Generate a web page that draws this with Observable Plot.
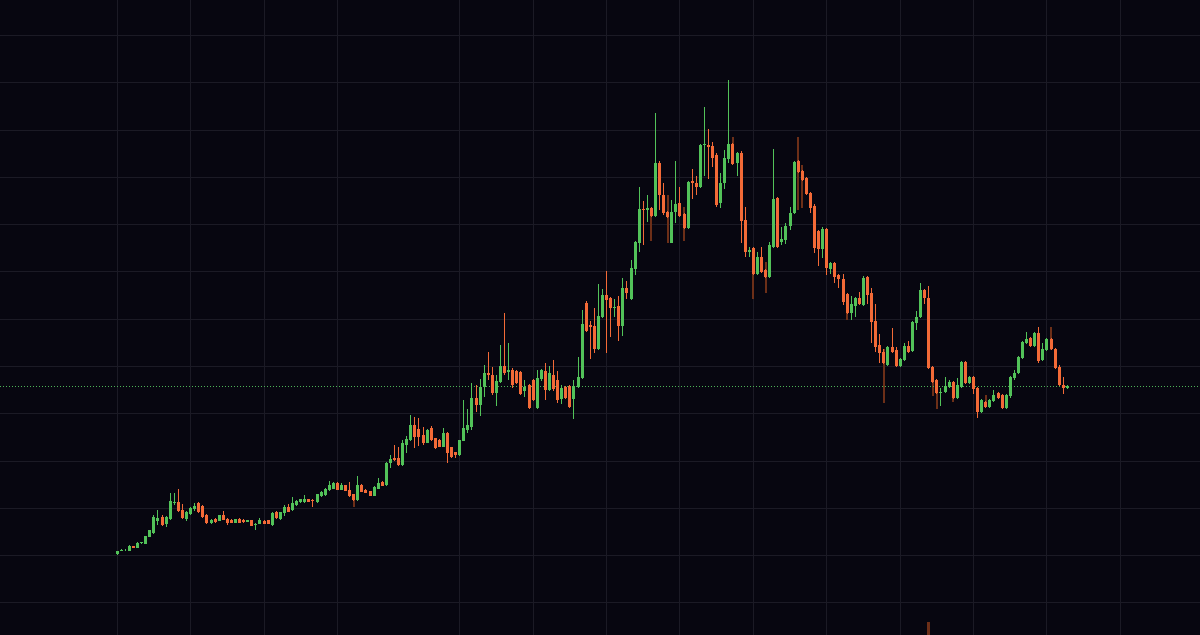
<!DOCTYPE html>
<html><head><meta charset="utf-8">
<script src="https://cdn.jsdelivr.net/npm/d3@7"></script>
<script src="https://cdn.jsdelivr.net/npm/@observablehq/plot@0.6"></script>
<style>html,body{margin:0;padding:0;background:#070610;overflow:hidden}#chart svg{display:block;shape-rendering:crispEdges}</style>
</head><body><div id="chart"></div>
<script>
const open = [
8.1, 8.45, 8.5, 8.4, 8.9, 8.75, 9.2, 9.15, 9.85, 10.2,
11.45, 11.8, 11.1, 11.6, 13.2, 13.3, 12.5, 11.6, 12.1, 12.6,
13.2, 12.9, 12.0, 11.25, 11.65, 11.45, 12.0, 11.65, 11.5, 11.25,
11.65, 11.5, 11.35, 11.5, 11.0, 11.15, 11.4, 11.5, 11.0, 12.3,
11.6, 12.25, 12.85, 12.5, 13.0, 13.3, 13.35, 13.6, 13.55, 13.3,
13.9, 14.0, 14.5, 14.65, 15.25, 14.55, 15.0, 14.55, 14.1, 13.5,
15.0, 14.55, 14.4, 13.95, 14.65, 15.35, 15.0, 17.2, 17.67, 17.7,
17.0, 19.0, 19.5, 21.0, 20.6, 20.0, 19.25, 20.75, 19.7, 19.5,
18.85, 20.25, 18.8, 18.3, 18.0, 19.45, 20.5, 20.85, 23.75, 23.0,
24.8, 26.2, 26.0, 24.2, 25.3, 26.9, 26.3, 26.5, 26.4, 26.3,
24.4, 25.0, 25.5, 22.7, 25.6, 26.4, 24.5, 26.0, 25.5, 23.6,
24.8, 24.9, 23.6, 24.8, 25.7, 33.2, 31.0, 30.9, 28.6, 31.8,
34.0, 33.7, 32.7, 32.9, 30.9, 34.7, 33.6, 36.6, 39.2, 42.6,
42.55, 42.7, 41.9, 47.2, 44.0, 42.3, 39.2, 42.3, 43.2, 42.1,
40.7, 45.4, 45.2, 44.8, 49.0, 49.05, 48.9, 48.0, 43.2, 45.2,
47.6, 49.1, 47.2, 48.2, 41.5, 38.3, 38.7, 36.1, 37.8, 36.5,
35.8, 38.8, 43.7, 39.35, 39.5, 40.9, 42.2, 47.4, 46.4, 45.7,
44.2, 42.9, 40.4, 38.6, 40.6, 36.6, 37.2, 36.0, 35.6, 34.1,
32.2, 32.9, 33.7, 33.0, 35.8, 34.2, 31.4, 29.0, 28.3, 27.0,
28.8, 28.5, 26.9, 27.5, 28.9, 28.4, 31.2, 31.8, 34.5, 33.7,
26.8, 25.5, 24.2, 24.3, 24.8, 25.35, 23.7, 24.8, 27.3, 25.2,
25.8, 24.7, 22.3, 23.3, 22.8, 23.4, 24.2, 24.0, 22.7, 23.9,
25.7, 26.2, 27.7, 29.2, 29.7, 28.9, 30.2, 27.5, 28.5, 29.6,
28.6, 26.8, 25.0, 24.7
];
const high = [
8.45, 8.6, 8.6, 9.0, 8.95, 9.3, 9.35, 9.95, 10.55, 12.0,
12.5, 12.0, 11.9, 14.2, 14.2, 14.6, 13.1, 12.4, 12.8, 13.2,
13.3, 13.0, 12.1, 11.6, 11.7, 12.05, 12.4, 11.7, 11.6, 11.65,
11.7, 11.65, 11.55, 11.55, 11.2, 11.7, 11.5, 11.55, 12.3, 12.4,
12.35, 13.0, 13.1, 13.8, 13.5, 13.65, 14.0, 13.65, 13.6, 14.15,
14.4, 14.7, 15.4, 15.3, 15.3, 15.25, 15.05, 15.3, 14.15, 15.95,
15.1, 14.6, 14.45, 14.9, 15.75, 15.4, 17.3, 18.0, 19.0, 18.8,
19.5, 19.9, 22.0, 21.8, 21.7, 20.8, 20.6, 20.9, 19.75, 19.6,
20.7, 20.3, 18.85, 18.35, 19.55, 23.5, 22.6, 25.2, 25.0, 25.6,
27.0, 28.3, 26.8, 26.0, 29.0, 32.2, 29.2, 26.7, 26.5, 26.4,
25.5, 25.1, 25.6, 26.5, 26.6, 27.2, 26.9, 27.5, 26.4, 25.0,
24.9, 25.0, 25.5, 27.8, 32.5, 33.4, 31.4, 32.7, 35.1, 34.6,
36.4, 33.8, 33.6, 33.9, 35.7, 35.4, 37.5, 39.4, 44.8, 43.4,
44.0, 42.8, 52.2, 47.4, 45.2, 42.4, 43.5, 47.4, 44.8, 42.2,
45.4, 46.6, 45.9, 49.1, 52.8, 50.6, 49.3, 48.2, 46.2, 48.5,
55.5, 49.2, 48.3, 48.4, 42.8, 38.8, 38.8, 38.3, 38.8, 36.6,
39.3, 48.6, 43.8, 40.8, 41.2, 42.8, 47.4, 47.5, 46.5, 45.8,
44.3, 43.1, 40.5, 40.8, 40.7, 37.3, 37.3, 36.1, 36.1, 34.2,
33.9, 33.8, 34.3, 35.9, 35.9, 34.7, 33.1, 30.1, 28.6, 28.9,
30.7, 28.8, 27.7, 29.2, 29.4, 31.4, 32.4, 35.2, 34.6, 34.9,
26.9, 25.6, 24.7, 25.8, 25.5, 25.4, 25.7, 27.4, 27.4, 25.9,
25.9, 24.8, 23.6, 23.4, 23.6, 24.5, 24.3, 24.1, 24.1, 25.9,
26.5, 27.9, 29.4, 30.3, 29.8, 30.3, 30.8, 29.2, 29.7, 29.7,
28.7, 27.0, 25.8, 25.0
];
const low = [
8.05, 8.4, 8.45, 8.4, 8.7, 8.7, 9.15, 9.1, 9.8, 10.1,
11.0, 10.9, 10.8, 11.5, 13.0, 12.3, 11.6, 11.45, 12.0, 12.4,
12.2, 11.7, 11.1, 11.1, 11.25, 11.4, 11.5, 11.0, 11.2, 11.2,
11.2, 11.25, 11.3, 10.9, 10.5, 11.1, 11.1, 11.1, 10.95, 11.6,
11.55, 11.9, 12.3, 12.45, 12.95, 13.25, 13.2, 13.3, 12.85, 13.25,
13.85, 13.95, 14.45, 14.6, 14.5, 14.5, 14.4, 13.85, 13.45, 13.45,
14.3, 14.2, 13.9, 13.9, 14.6, 14.9, 14.95, 16.7, 17.4, 16.9,
16.9, 18.2, 19.4, 18.7, 18.9, 19.0, 19.2, 19.4, 18.6, 18.8,
18.8, 17.2, 17.7, 17.7, 17.95, 19.4, 20.2, 20.5, 22.3, 21.9,
23.8, 25.5, 24.0, 22.9, 25.2, 26.0, 25.5, 24.7, 25.1, 24.0,
23.8, 22.6, 23.4, 22.6, 25.4, 23.5, 24.4, 24.4, 23.2, 23.1,
23.6, 22.7, 21.6, 24.7, 25.6, 30.3, 27.6, 28.2, 28.55, 31.7,
28.2, 29.8, 31.8, 29.4, 29.9, 33.6, 33.5, 36.0, 38.3, 39.0,
41.3, 41.8, 41.8, 42.5, 42.0, 41.7, 39.2, 41.2, 41.8, 40.6,
40.6, 43.6, 44.0, 44.7, 45.9, 45.6, 46.8, 42.8, 42.7, 44.6,
47.2, 47.0, 45.9, 39.2, 37.8, 37.8, 36.0, 36.0, 36.2, 35.7,
35.7, 38.7, 38.7, 39.0, 39.1, 40.5, 42.1, 46.2, 45.4, 44.0,
42.2, 38.2, 36.9, 37.7, 36.0, 36.1, 35.2, 34.7, 33.0, 32.1,
31.5, 31.8, 33.0, 32.9, 33.1, 29.2, 28.3, 27.2, 27.1, 26.9,
28.2, 26.8, 26.8, 27.4, 28.2, 28.3, 30.5, 31.7, 33.1, 26.6,
25.2, 24.1, 22.9, 24.2, 24.7, 23.6, 23.6, 24.7, 25.1, 25.1,
24.1, 21.7, 22.2, 22.75, 22.7, 23.35, 23.6, 22.6, 22.6, 23.7,
25.5, 26.1, 27.6, 29.1, 28.8, 28.8, 27.2, 27.4, 28.4, 28.5,
26.6, 24.9, 24.1, 24.6
];
const close = [
8.4, 8.55, 8.55, 8.9, 8.75, 9.25, 9.3, 9.9, 10.5, 11.8,
11.7, 11.0, 11.8, 13.4, 13.35, 12.4, 11.7, 12.3, 12.7, 12.9,
12.3, 11.8, 11.2, 11.55, 11.3, 12.0, 11.55, 11.25, 11.25, 11.6,
11.25, 11.35, 11.5, 10.95, 11.15, 11.5, 11.15, 11.15, 12.25, 11.7,
12.3, 12.85, 12.35, 13.2, 13.45, 13.6, 13.65, 13.35, 13.45, 14.1,
14.35, 14.65, 15.0, 15.25, 14.55, 15.0, 14.45, 13.9, 13.5, 15.0,
14.35, 14.25, 13.95, 14.85, 15.25, 14.95, 17.2, 17.6, 17.5, 17.0,
19.2, 19.6, 21.0, 19.8, 19.8, 19.2, 20.55, 19.5, 18.7, 18.85,
20.25, 18.2, 17.8, 18.0, 19.5, 20.7, 21.0, 23.7, 23.0, 24.8,
26.2, 26.0, 24.2, 25.4, 26.9, 26.2, 26.5, 25.0, 25.2, 24.1,
24.8, 22.7, 23.5, 25.7, 26.5, 24.5, 26.2, 24.6, 23.5, 24.7,
23.7, 22.8, 24.9, 25.8, 31.1, 30.4, 30.85, 28.6, 31.9, 34.0,
33.5, 32.7, 32.85, 30.9, 34.7, 34.2, 36.7, 39.3, 42.6, 42.5,
42.75, 41.9, 47.2, 44.0, 42.2, 41.8, 42.3, 43.1, 41.9, 40.7,
45.3, 45.2, 44.8, 49.0, 49.1, 48.8, 47.7, 43.0, 45.2, 47.7,
49.1, 47.1, 48.2, 41.4, 38.3, 38.55, 36.1, 37.8, 36.3, 35.8,
39.0, 43.6, 38.8, 39.65, 40.9, 42.2, 47.3, 46.3, 45.5, 44.1,
42.7, 38.7, 38.6, 40.6, 36.7, 37.2, 35.8, 35.6, 33.3, 32.2,
33.1, 33.7, 33.1, 35.7, 34.0, 31.3, 28.8, 28.2, 27.2, 28.8,
28.3, 26.9, 27.6, 28.9, 28.3, 31.3, 31.8, 34.5, 33.7, 26.7,
25.3, 24.2, 24.35, 24.9, 25.35, 23.7, 25.0, 27.3, 25.2, 25.8,
24.6, 22.3, 23.5, 22.85, 23.5, 24.0, 23.7, 22.7, 24.0, 25.8,
26.2, 27.8, 29.3, 29.6, 28.9, 30.2, 27.4, 28.6, 29.6, 28.6,
26.7, 25.0, 24.7, 24.9
];
const lastPrice = 24.9;
// faint duplicate (shadow) bars seen behind some candles
const ghostIndex = [58, 131, 135, 139, 151, 156, 159, 167, 168, 179, 188, 200, 201, 205, 213, 229];
const ghostHigh  = [14.1, 42.0, 44.0, 42.8, 49.8, 36.1, 37.3, 49.8, 47.0, 32.2, 28.6, 25.3, 24.2, 23.7, 24.0, 30.8];
const ghostLow   = [12.8, 39.4, 39.2, 39.4, 47.2, 33.6, 34.2, 42.5, 42.7, 31.5, 23.2, 23.9, 22.6, 23.3, 22.8, 28.5];
// lone volume bar visible at the bottom edge
const volumeIndex = [199];
const volumeValue = [1.3];
// grid positions (bar index / price)
const timeGrid = [0, 18, 36, 54, 84, 102, 120, 138, 156, 174, 192, 210, 228, 246];
const priceGrid = [3.3, 8.0, 12.75, 17.45, 22.2, 26.9, 31.65, 36.4, 41.1, 45.8, 50.55, 55.3, 60.0];

const GREEN = "#52c259", ORANGE = "#f36a37", GHOST = "#6d2f18", GRID = "#1b1a25";

const bars = open.map((o, i) => ({i, open: o, high: high[i], low: low[i], close: close[i]}));
const up = bars.filter(d => d.close >= d.open);
const down = bars.filter(d => d.close < d.open);
const ghosts = ghostIndex.map((g, k) => ({i: g, hi: ghostHigh[k], lo: ghostLow[k]}));
const volume = volumeIndex.map((g, k) => ({i: g, v: volumeValue[k]}));

const bodyLo = d => Math.min(d.open, d.close);
const bodyHi = d => Math.max(d.open, d.close);

const chart = Plot.plot({
  width: 1200, height: 635, margin: 0,
  style: {background: "#070610"},
  x: {domain: [-28.62, 265.65], axis: null},
  y: {domain: [0, 63.5], axis: null},
  marks: [
    Plot.ruleX(timeGrid, {stroke: GRID, strokeWidth: 1}),
    Plot.ruleY(priceGrid, {stroke: GRID, strokeWidth: 1}),
    Plot.ruleX(volume, {x: "i", y1: 0, y2: "v", stroke: GHOST, strokeWidth: 3}),
    Plot.ruleX(ghosts, {x: "i", y1: "lo", y2: "hi", stroke: GHOST, strokeWidth: 2}),
    Plot.ruleY([lastPrice], {stroke: "#4cb256", strokeWidth: 1, strokeDasharray: "1,2"}),
    Plot.ruleX(up, {x: "i", y1: "low", y2: "high", stroke: GREEN, strokeWidth: 1}),
    Plot.ruleX(down, {x: "i", y1: "low", y2: "high", stroke: ORANGE, strokeWidth: 1}),
    Plot.ruleX(up, {x: "i", y1: bodyLo, y2: bodyHi, stroke: GREEN, strokeWidth: 3}),
    Plot.ruleX(down, {x: "i", y1: bodyLo, y2: bodyHi, stroke: ORANGE, strokeWidth: 3})
  ]
});
document.getElementById("chart").appendChild(chart);
</script>
</body></html>
